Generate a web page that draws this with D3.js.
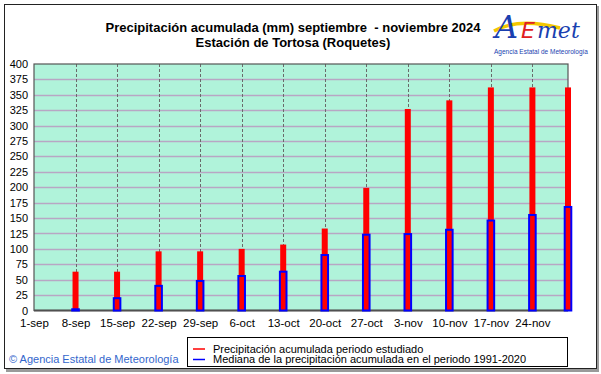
<!DOCTYPE html>
<html>
<head>
<meta charset="utf-8">
<script src="https://cdn.jsdelivr.net/npm/d3@7"></script>
<style>
  body { margin: 0; background: #fff; }
  svg { display: block; font-family: Arial, "Liberation Sans", sans-serif; }
</style>
</head>
<body>
<div id="container"></div>
<script>
// data
let fechas = ["2024-09-01","2024-09-08","2024-09-15","2024-09-22","2024-09-29","2024-10-06","2024-10-13",
              "2024-10-20","2024-10-27","2024-11-03","2024-11-10","2024-11-17","2024-11-24","2024-11-30"];
let precipitacion = [0, 63, 63, 96, 96, 100, 107, 133, 199, 327, 341, 362, 362, 362];
let mediana = [0, 2, 20, 40, 48, 56, 63, 90, 123, 124, 131, 146, 155, 168];
let etiquetasX = ["1-sep","8-sep","15-sep","22-sep","29-sep","6-oct","13-oct","20-oct","27-oct","3-nov","10-nov","17-nov","24-nov"];
let ticksY = [0,25,50,75,100,125,150,175,200,225,250,275,300,325,350,375,400];

let w = 601;
let h = 374;
// plot area edges
let pLeft = 34, pRight = 568, pTop = 64, pBottom = 310.5;

let parse = d3.timeParse("%Y-%m-%d");
let data = fechas.map(function(f, i){
  return {fecha: parse(f), valor: precipitacion[i], med: mediana[i]};
});

let viz = d3.select("#container")
  .append("svg")
    .attr("width", w)
    .attr("height", h)
;

// outer frame with shadow
viz.append("rect").attr("x", 6).attr("y", 6).attr("width", 593).attr("height", 366).attr("fill", "#9a9a9a");
viz.append("rect").attr("x", 4.5).attr("y", 4.5).attr("width", 592).attr("height", 364)
  .attr("fill", "#fff").attr("stroke", "#222").attr("stroke-width", 1);

let xScale = d3.scaleTime()
  .domain([data[0].fecha, data[data.length-1].fecha])
  .range([pLeft, pRight]);
let yScale = d3.scaleLinear().domain([0, 400]).range([pBottom, pTop]);

// plot background
viz.append("rect")
  .attr("x", pLeft).attr("y", pTop)
  .attr("width", pRight-pLeft).attr("height", pBottom-pTop)
  .attr("fill", "#b0f3da");

// horizontal grid
viz.append("g").selectAll("line").data(ticksY.slice(1, -1)).enter().append("line")
  .attr("x1", pLeft).attr("x2", pRight)
  .attr("y1", function(d){ return Math.round(yScale(d)) + 0.5; })
  .attr("y2", function(d){ return Math.round(yScale(d)) + 0.5; })
  .attr("stroke", "#b8a6c4").attr("stroke-width", 1.5);

// vertical dashed grid at the weekly ticks
let tickDates = data.slice(0, etiquetasX.length).map(function(d){ return d.fecha; });
viz.append("g").selectAll("line").data(tickDates.slice(1)).enter().append("line")
  .attr("x1", function(d){ return Math.round(xScale(d)) + 0.5; })
  .attr("x2", function(d){ return Math.round(xScale(d)) + 0.5; })
  .attr("y1", pTop).attr("y2", pBottom)
  .attr("stroke", "#6a6a6a").attr("stroke-width", 1)
  .attr("stroke-dasharray", "3,2");

// plot border
viz.append("rect")
  .attr("x", pLeft).attr("y", pTop)
  .attr("width", pRight-pLeft).attr("height", pBottom-pTop)
  .attr("fill", "none").attr("stroke", "#555").attr("stroke-width", 1.2);
viz.append("line").attr("x1", pLeft).attr("x2", pRight).attr("y1", pBottom).attr("y2", pBottom)
  .attr("stroke", "#505050").attr("stroke-width", 2);

// red bars (studied period)
viz.append("g").selectAll("rect").data(data.filter(function(d){ return d.valor > 0; })).enter().append("rect")
  .attr("x", function(d){ return xScale(d.fecha) - 3; })
  .attr("width", 6)
  .attr("y", function(d){ return yScale(d.valor); })
  .attr("height", function(d){ return pBottom - yScale(d.valor); })
  .attr("fill", "#ff0000");

// blue boxes (median 1991-2020)
viz.append("g").selectAll("rect").data(data.filter(function(d){ return d.med > 0; })).enter().append("rect")
  .attr("x", function(d){ return xScale(d.fecha) - 3.3; })
  .attr("width", 6.6)
  .attr("y", function(d){ return yScale(d.med); })
  .attr("height", function(d){ return pBottom - yScale(d.med); })
  .attr("fill", "none")
  .attr("stroke", "#0000ff").attr("stroke-width", 2);

// y axis labels
let yAxis = d3.axisLeft(yScale).tickValues(ticksY).tickSize(0).tickPadding(0);
let yAxisGroup = viz.append("g").attr("transform", "translate(28,0)").call(yAxis);
yAxisGroup.select(".domain").remove();
yAxisGroup.selectAll("text").attr("font-size", 11).attr("fill", "#000").attr("font-family", "Arial, 'Liberation Sans', sans-serif");

// x axis labels
let xAxis = d3.axisBottom(xScale).tickValues(tickDates).tickSize(0).tickPadding(0)
  .tickFormat(function(d, i){ return etiquetasX[i]; });
let xAxisGroup = viz.append("g").attr("transform", "translate(0,319)").call(xAxis);
xAxisGroup.select(".domain").remove();
xAxisGroup.selectAll("text").attr("font-size", 11.5).attr("fill", "#000").attr("font-family", "Arial, 'Liberation Sans', sans-serif");

// title
viz.append("text").attr("x", 293).attr("y", 32).attr("text-anchor", "middle")
  .attr("font-size", 13).attr("font-weight", "bold").attr("fill", "#000")
  .style("white-space", "pre")
  .text("Precipitación acumulada (mm) septiembre  - noviembre 2024");
viz.append("text").attr("x", 293).attr("y", 47).attr("text-anchor", "middle")
  .attr("font-size", 13).attr("font-weight", "bold").attr("fill", "#000")
  .text("Estación de Tortosa (Roquetes)");

// legend
let legend = viz.append("g");
legend.append("rect").attr("x", 187.5).attr("y", 337.5).attr("width", 380).attr("height", 29)
  .attr("fill", "#fff").attr("stroke", "#000").attr("stroke-width", 1);
legend.append("line").attr("x1", 193).attr("x2", 205).attr("y1", 349).attr("y2", 349).attr("stroke", "#ff0000").attr("stroke-width", 1.5);
legend.append("line").attr("x1", 193).attr("x2", 205).attr("y1", 359.5).attr("y2", 359.5).attr("stroke", "#0000ff").attr("stroke-width", 1.5);
legend.append("text").attr("x", 213).attr("y", 352.5).attr("font-size", 11).attr("fill", "#000")
  .text("Precipitación acumulada periodo estudiado");
legend.append("text").attr("x", 213).attr("y", 363).attr("font-size", 11).attr("fill", "#000")
  .text("Mediana de la precipitación acumulada en el periodo 1991-2020");

// copyright
viz.append("text").attr("x", 9).attr("y", 363).attr("font-size", 11).attr("fill", "#3366cc")
  .text("© Agencia Estatal de Meteorología");

// AEMET logo (approximate)
let logo = viz.append("g");
logo.append("path")
  .attr("d", "M494,31 C510,22 530,20 560,28")
  .attr("fill", "none").attr("stroke", "#f4c800").attr("stroke-width", 3.5);
logo.append("text").attr("x", 495).attr("y", 38)
  .attr("font-family", "'DejaVu Serif', serif").attr("font-style", "italic")
  .attr("font-size", 32).attr("fill", "#1a3fb0").text("A");
logo.append("text").attr("x", 521).attr("y", 38)
  .attr("font-family", "'DejaVu Sans', sans-serif").attr("font-style", "italic")
  .attr("font-size", 22).attr("fill", "#e02020").text("E");
logo.append("text").attr("x", 537).attr("y", 38)
  .attr("font-family", "'DejaVu Serif', serif").attr("font-style", "italic")
  .attr("font-size", 22).attr("fill", "#1a3fb0").text("met");
logo.append("text").attr("x", 541).attr("y", 54).attr("text-anchor", "middle")
  .attr("font-size", 6.5).attr("fill", "#1a3fb0").text("Agencia Estatal de Meteorología");
</script>
</body>
</html>
